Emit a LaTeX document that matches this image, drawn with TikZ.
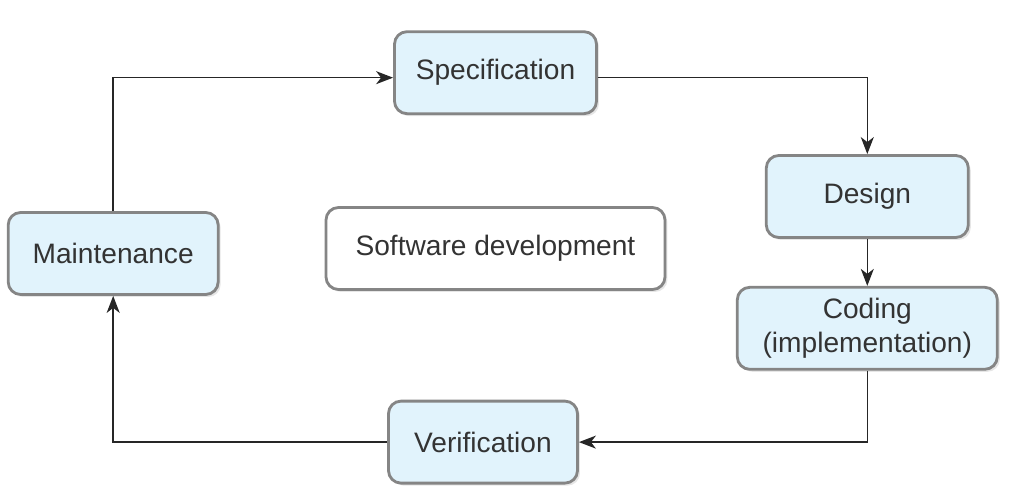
\documentclass[tikz,border=0pt]{standalone}
\usepackage{fontspec}
\setmainfont{Liberation Sans}
\usepackage{xcolor}
\usepackage{tikz}
\usetikzlibrary{arrows.meta,positioning,shadows}

\definecolor{boxfill}{HTML}{E1F3FC}
\definecolor{boxline}{HTML}{858585}
\definecolor{txtgray}{HTML}{333333}

\begin{document}
\begin{tikzpicture}[
phase/.style={rectangle, draw=boxline, line width=1.6pt, rounded corners=0.25cm, align=center, minimum height=1.64cm, fill=boxfill, text=txtgray, font=\fontsize{16}{19.5}\selectfont, drop shadow={shadow xshift=0.05cm, shadow yshift=-0.05cm, opacity=0.2}},
title/.style={phase, fill=white},
arrow/.style={-{Stealth[length=0.34cm, width=0.26cm, inset=0.1cm]}, line width=0.8pt, draw=black!85}
]
\useasboundingbox (-9.91,4.97) rectangle (10.57,-4.91);

% Centre label
\node[title, minimum width=6.78cm] (dev) {Software development};

% Phases around it
\node[phase, minimum width=4.04cm, above=1.82cm of dev] (spec) {Specification};
\node[phase, minimum width=4.04cm, below right=0.78cm and 3.34cm of spec] (design) {Design};
\node[phase, minimum width=5.2cm, below=0.94cm of design] (coding) {Coding\\(implementation)};
\node[phase, minimum width=3.78cm, below left=0.58cm and 3.14cm of coding] (verif) {Verification};
\node[phase, minimum width=4.2cm, left=2.1cm of dev, yshift=-0.1cm] (maint) {Maintenance};

% Connections
\draw[arrow] (maint.north) |- ([yshift=-0.1cm]spec.west);
\draw[arrow] ([yshift=-0.1cm]spec.east) -| (design.north);
\draw[arrow] (design) -- (coding);
\draw[arrow] (coding.south) |- (verif.east);
\draw[arrow] (verif.west) -| (maint.south);

\end{tikzpicture}
\end{document}
